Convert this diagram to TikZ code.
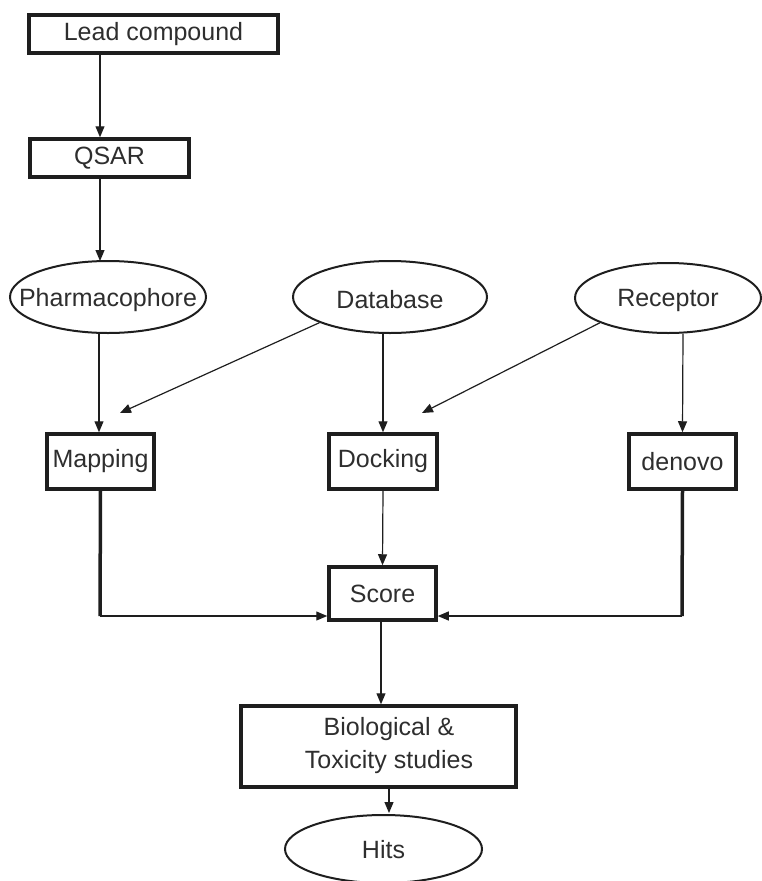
\documentclass[tikz,border=0pt]{standalone}
\usepackage{fontspec}
\setmainfont{Liberation Sans}
\usetikzlibrary{shapes.geometric,arrows.meta}
\definecolor{ink}{HTML}{1E1E1E}
\definecolor{txt}{HTML}{2E2E2E}
\newcommand{\ovtext}[1]{\makebox[0pt]{#1}}
\begin{document}
\begin{tikzpicture}[x=1pt,y=-1pt,
  every node/.style={text=txt,font=\fontsize{25}{33}\selectfont,inner sep=0pt},
  boxn/.style={draw=ink,line width=3.5pt,rectangle,align=center},
  ovaln/.style={draw=ink,line width=2pt,ellipse,text depth=0pt},
  arr/.style={draw=ink,line width=1.2pt,-{Triangle[length=11pt,width=9pt]}},
  thickline/.style={draw=ink,line width=3.5pt}]
\useasboundingbox (0,0) rectangle (762,881);
% nodes
\node[boxn,minimum width=249pt,minimum height=38pt] (lead) at (153.5,34) {Lead compound};
\node[boxn,minimum width=159pt,minimum height=38pt] (qsar) at (109.5,158) {QSAR};
\node[ovaln,minimum width=196pt,minimum height=72pt] (pharm) at (108,297) {\ovtext{Pharmacophore}};
\node[ovaln,minimum width=194pt,minimum height=72pt] (db) at (390,297) {\ovtext{\raisebox{-4pt}{Database}}};
\node[ovaln,minimum width=186pt,minimum height=70pt] (rec) at (668,298) {\ovtext{Receptor}};
\node[boxn,minimum width=107pt,minimum height=55pt] (map) at (100.5,461.5) {Mapping};
\node[boxn,minimum width=108pt,minimum height=55pt] (dock) at (383,461.5) {Docking};
\node[boxn,minimum width=107pt,minimum height=55pt] (denovo) at (682.5,461.5) {denovo};
\node[boxn,minimum width=107pt,minimum height=53pt] (score) at (382.5,593.5) {Score};
\node[boxn,minimum width=275pt,minimum height=81pt] (bio) at (378.5,746.5) {};
\node[align=center] (bioT) at (389,746) {Biological \&\\Toxicity studies};
\node[ovaln,minimum width=197pt,minimum height=68pt] (hits) at (383.5,849) {\ovtext{Hits}};
% coordinates
\coordinate (mapTip) at (120,413);
\coordinate (dockTip) at (422,413);
\coordinate (mj) at (100,616);
\coordinate (dj) at (682,616);
% connectors
\draw[arr] ([xshift=-53.5pt]lead.south) -- ([xshift=-9.5pt]qsar.north);
\draw[arr] ([xshift=-9.5pt]qsar.south) -- ([xshift=-8pt,yshift=-1pt]pharm.north);
\draw[arr] ([xshift=-9pt]pharm.south) -- ([xshift=-1.5pt]map.north);
\draw[arr] ([xshift=-7pt]db.south) -- (dock.north);
\draw[arr] ([xshift=15pt]rec.south) -- (denovo.north);
\draw[arr] (db.200) -- (mapTip);
\draw[arr] (rec.200) -- (dockTip);
\draw[arr] (dock.south) -- (score.north);
\draw[thickline] (map.south) -- (mj);
\draw[thickline] (denovo.south) -- (dj);
\draw[arr] (mj) -- (mj -| score.west);
\draw[arr] (dj) -- (dj -| score.east);
\draw[arr] ([xshift=-1.5pt]score.south) -- ([xshift=-1.5pt]score.south |- bio.north);
\draw[arr] (bio.south -| bioT) -- ([yshift=1pt]hits.north -| bioT);
\end{tikzpicture}
\end{document}
